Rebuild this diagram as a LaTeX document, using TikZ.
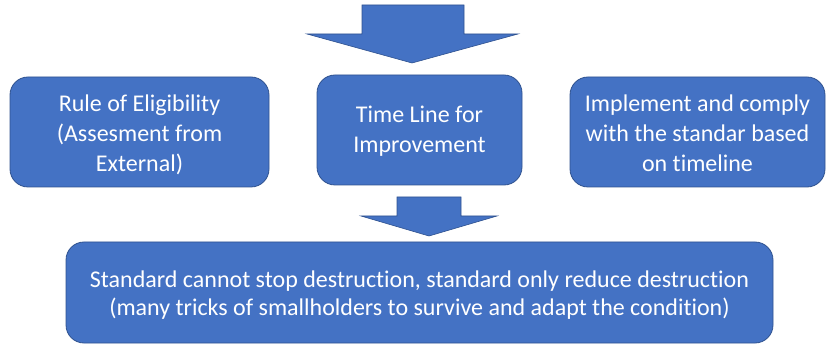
\documentclass[tikz,border=0pt]{standalone}
\usepackage{fontspec}
\setmainfont{Carlito}[Ligatures=NoCommon]
\definecolor{boxblue}{HTML}{4472C4}
\definecolor{boxedge}{HTML}{2F528F}
\begin{document}
\begin{tikzpicture}[x=1pt,y=-1pt,
  blk/.style={fill=boxblue,draw=boxedge,line width=0.8pt,rounded corners=18pt},
  arr/.style={fill=boxblue,draw=boxedge,line width=0.6pt,line join=miter},
  txt/.style={text=white,align=center,font=\fontsize{24}{30}\selectfont}]
\useasboundingbox (0,0) rectangle (826,344);
% top arrow
\draw[arr] (362,5) -- (464,5) -- (464,34) -- (518,34) -- (412,63) -- (307,34) -- (362,34) -- cycle;
% boxes
\draw[blk] (10,77) rectangle (269,187);
\node[txt] (b1) at (139.5,135) {Rule of Eligibility\\(Assesment from\\External)};
\draw[blk] (317,75) rectangle (522,185);
\node[txt] (b2) at (419.5,131) {Time Line for\\Improvement};
\draw[blk] (570,77) rectangle (825,187);
\node[txt] (b3) at (697.5,133) {Implement and comply\\with the standar based\\on timeline};
% bottom arrow
\draw[arr] (397,197) -- (461,197) -- (461,216) -- (497,216) -- (429,236) -- (361,216) -- (397,216) -- cycle;
% bottom box
\draw[blk] (66,242) rectangle (773,343);
\node[txt,font=\fontsize{24}{28.5}\selectfont] (b4) at (419.5,295) {Standard cannot stop destruction, standard only reduce destruction\\(many tricks of smallholders to survive and adapt the condition)};
\end{tikzpicture}
\end{document}
